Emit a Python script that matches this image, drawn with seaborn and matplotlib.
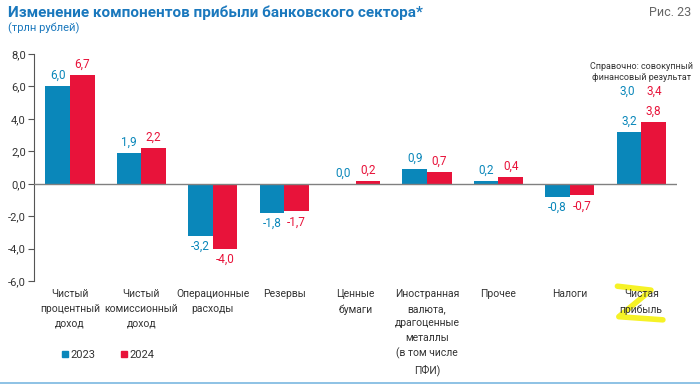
import pandas as pd
import numpy as np
import matplotlib.pyplot as plt
from matplotlib.lines import Line2D
import seaborn as sns

categories = ['Чистый\nпроцентный\nдоход', 'Чистый\nкомиссионный\nдоход', 'Операционные\nрасходы',
              'Резервы', 'Ценные\nбумаги', 'Иностранная\nвалюта,\nдрагоценные\nметаллы\n(в том числе\nПФИ)',
              'Прочее', 'Налоги', 'Чистая\nприбыль']
values_2023 = [6.0, 1.9, -3.2, -1.8, 0.0, 0.9, 0.2, -0.8, 3.2]
values_2024 = [6.7, 2.2, -4.0, -1.7, 0.2, 0.7, 0.4, -0.7, 3.8]
years = ['2023', '2024']
total_fin_result = [3.0, 3.4]
yticks = [-6, -4, -2, 0, 2, 4, 6, 8]

blue = '#0a87ba'
red = '#e8133a'
title_blue = '#1a78bd'
text_col = '#333333'

df = pd.DataFrame({
    'cat': categories * 2,
    'year': [years[0]] * len(categories) + [years[1]] * len(categories),
    'val': values_2023 + values_2024,
})

sns.set_style('white')
plt.rcParams['font.family'] = ['Roboto', 'DejaVu Sans']

fig = plt.figure(figsize=(7, 3.91), dpi=100)
ax = fig.add_axes([0.049, 0.281, 0.918, 0.581])

sns.barplot(data=df, x='cat', y='val', hue='year', palette=[blue, red],
            width=0.69, saturation=1, linewidth=0, ax=ax, legend=False)

def fmt(v):
    return f'{v:.1f}'.replace('.', ',')

for cont, col, vals in zip(ax.containers, [blue, red], [values_2023, values_2024]):
    ax.bar_label(cont, labels=[fmt(v) for v in vals], padding=3, color=col, fontsize=8.5)

ax.axhline(0, color='#808080', lw=1, zorder=3)
ax.set_ylim(-6, 8)
ax.set_xlim(-0.5, len(categories) - 0.5)
ax.set_yticks(yticks)
ax.set_yticklabels([fmt(t) for t in yticks], fontsize=8, color=text_col)
ax.tick_params(axis='y', length=4, color='#555555', direction='out', left=True, pad=2)
ax.tick_params(axis='x', length=0, pad=6)
ax.set_xticks(range(len(categories)))
ax.set_xticklabels(categories, fontsize=7.5, color=text_col, linespacing=1.55, va='top')
for s in ['top', 'right', 'bottom']:
    ax.spines[s].set_visible(False)
ax.spines['left'].set_color('#555555')
ax.spines['left'].set_linewidth(0.8)
ax.set_xlabel('')
ax.set_ylabel('')

# reference note above net profit
last = len(categories) - 1
ax.text(last, 6.9, 'Справочно: совокупный\nфинансовый результат', ha='center', va='center',
        fontsize=6.5, color=text_col, linespacing=1.3)
ax.text(last - 0.19, 5.7, fmt(total_fin_result[0]), ha='center', va='center',
        fontsize=8.5, color=blue)
ax.text(last + 0.19, 5.7, fmt(total_fin_result[1]), ha='center', va='center',
        fontsize=8.5, color=red)

# titles
fig.text(0.012, 0.968, 'Изменение компонентов прибыли банковского сектора*', fontsize=11,
         fontweight='bold', color=title_blue, va='center')
fig.text(0.012, 0.928, '(трлн рублей)', fontsize=8, color=title_blue, va='center')
fig.text(0.987, 0.968, 'Рис. 23', fontsize=9, color='#666666', va='center', ha='right')

# legend
handles = [Line2D([], [], marker='s', ls='', color=c, markersize=5) for c in [blue, red]]
fig.legend(handles, years, loc='center left', bbox_to_anchor=(0.072, 0.092), ncol=2,
           frameon=False, fontsize=8, handletextpad=0.1, columnspacing=2.2,
           handlelength=0.8, labelcolor=text_col)

# yellow scribble over the net profit label
fig.add_artist(Line2D([0.882, 0.93, 0.884, 0.947], [0.268, 0.258, 0.19, 0.182],
                      transform=fig.transFigure, color='#f5f000', lw=4, alpha=0.85,
                      solid_capstyle='round', solid_joinstyle='round', zorder=0))

# bottom rule
fig.add_artist(Line2D([0.0, 1.0], [0.02, 0.02], transform=fig.transFigure,
                      color='#7ab8e0', lw=1.2))

fig.savefig('out.png', dpi=100)
